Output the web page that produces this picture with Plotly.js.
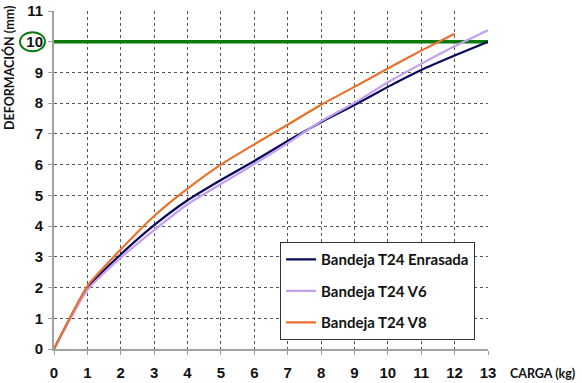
<!DOCTYPE html>
<html>
<head>
<meta charset="utf-8">
<script src="https://cdn.plot.ly/plotly-3.0.1.min.js"></script>
<style>html,body{margin:0;padding:0;background:#fff;}#chart{width:582px;height:383px;}</style>
</head>
<body>
<div id="chart"></div>
<script>
// Data
const cargaKg = [0, 1, 2, 3, 4, 5, 6, 7, 8, 9, 10, 11, 12, 13];
const cargaKgV8 = [0, 1, 2, 3, 4, 5, 6, 7, 8, 9, 10, 11, 12];
const enrasada = [0, 2.0, 3.08, 4.03, 4.84, 5.5, 6.12, 6.77, 7.38, 7.94, 8.53, 9.08, 9.55, 10.0];
const v6 = [0, 1.92, 2.97, 3.87, 4.71, 5.37, 6.02, 6.7, 7.41, 8.01, 8.68, 9.28, 9.85, 10.37];
const v8 = [0, 2.05, 3.24, 4.33, 5.22, 6.0, 6.66, 7.3, 7.95, 8.53, 9.13, 9.71, 10.26];
const limiteX = [0, 13];
const limiteY = [10, 10];
const seriesNames = ["Bandeja T24 Enrasada", "Bandeja T24 V6", "Bandeja T24 V8"];
const xTicks = [0, 1, 2, 3, 4, 5, 6, 7, 8, 9, 10, 11, 12, 13];
const yTicks = [0, 1, 2, 3, 4, 5, 6, 7, 8, 9, 10, 11];

const tickFont = {family: "Liberation Sans, Arial, sans-serif", size: 15, color: "#111", weight: "bold"};
const labelFont = {family: "Lato, sans-serif", size: 12.5, color: "#111", weight: "bold"};

const traces = [
  {x: limiteX, y: limiteY, mode: "lines", line: {color: "#0b7a0b", width: 3.5}, showlegend: false, hoverinfo: "skip"},
  {x: cargaKg, y: enrasada, mode: "lines", name: seriesNames[0], legendgroup: "a", line: {color: "#0a0a5c", width: 2.2, shape: "spline", smoothing: 0.5}},
  {x: cargaKg, y: v6, mode: "lines", name: seriesNames[1], legendgroup: "b", line: {color: "#c49ff0", width: 2.2, shape: "spline", smoothing: 0.5}},
  {x: cargaKgV8, y: v8, mode: "lines", name: seriesNames[2], legendgroup: "c", line: {color: "#e8712c", width: 2.2, shape: "spline", smoothing: 0.5}}
];

const layout = {
  width: 582, height: 383,
  margin: {l: 54, r: 94, t: 11, b: 34, pad: 0},
  paper_bgcolor: "#fff", plot_bgcolor: "#fff",
  showlegend: true,
  xaxis: {
    range: [0, 13], tickvals: xTicks, ticktext: xTicks.map(String),
    showgrid: true, gridcolor: "#555", griddash: "dot", gridwidth: 1,
    showline: true, linecolor: "#a0a0a0", linewidth: 2,
    ticks: "outside", ticklen: 4, tickcolor: "#a0a0a0",
    tickfont: tickFont, ticklabelstandoff: 5, zeroline: false, fixedrange: true
  },
  yaxis: {
    range: [0, 11], tickvals: yTicks, ticktext: yTicks.map(String),
    showgrid: true, gridcolor: "#555", griddash: "dot", gridwidth: 1,
    showline: true, linecolor: "#a0a0a0", linewidth: 2,
    ticks: "outside", ticklen: 4, tickcolor: "#a0a0a0",
    tickfont: tickFont, ticklabelstandoff: 2, zeroline: false, fixedrange: true
  },
  yaxis2: {
    overlaying: "y", side: "right", range: [0, 11], showline: true, linecolor: "#a0a0a0", linewidth: 2,
    showgrid: false, showticklabels: false, ticks: "", zeroline: false, fixedrange: true
  },
  legend: {
    x: 0.521, y: 0.316, xanchor: "left", yanchor: "top",
    bgcolor: "#fff", bordercolor: "#333", borderwidth: 1,
    font: {family: "Lato, sans-serif", size: 15, color: "#111", weight: "bold"},
    traceorder: "grouped", tracegroupgap: 9
  },
  shapes: [
    {type: "circle", xref: "paper", yref: "y domain", xsizemode: "pixel", ysizemode: "pixel",
     xanchor: 0, yanchor: 10 / 11, x0: -34, x1: -9, y0: -9.5, y1: 9.5,
     line: {color: "#0b7a0b", width: 2}, layer: "above"}
  ],
  annotations: [
    {text: "CARGA (kg)", xref: "paper", yref: "paper", x: 1.045, y: 0, xanchor: "left", yanchor: "top",
     yshift: -15, showarrow: false, font: labelFont},
    {text: "DEFORMACIÓN (mm)", xref: "paper", yref: "paper", x: 0, y: 1, xanchor: "center", yanchor: "top",
     xshift: -45, yshift: 7, textangle: -90, showarrow: false, font: labelFont}
  ]
};

Plotly.newPlot("chart", traces, layout, {displayModeBar: false, staticPlot: true});
</script>
</body>
</html>
